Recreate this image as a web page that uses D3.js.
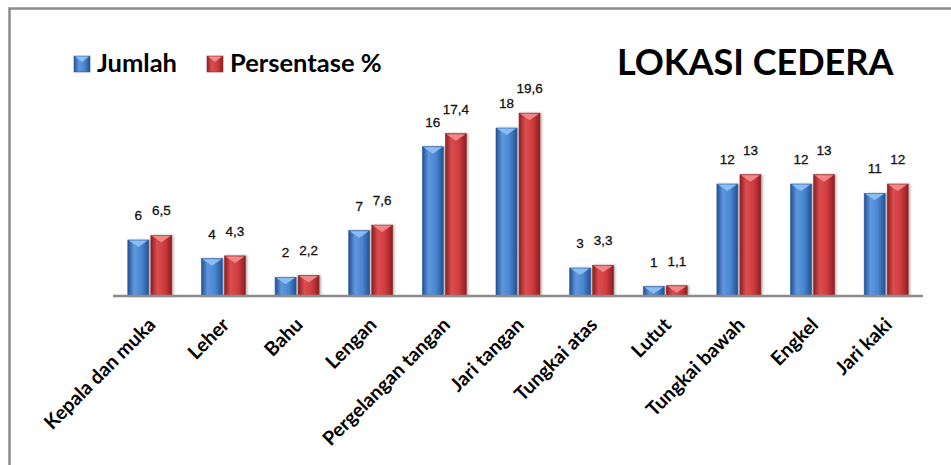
<!DOCTYPE html>
<html>
<head>
<meta charset="utf-8">
<script src="https://cdn.jsdelivr.net/npm/d3@7/dist/d3.min.js"></script>
<style>
  html, body { margin: 0; padding: 0; background: #fff; }
  svg { display: block; }
</style>
</head>
<body>
<svg id="chart" width="951" height="465"></svg>
<script>
// Lokasi cedera: jumlah kasus dan persentase per lokasi tubuh
const categories = ["Kepala dan muka", "Leher", "Bahu", "Lengan", "Pergelangan tangan",
  "Jari tangan", "Tungkai atas", "Lutut", "Tungkai bawah", "Engkel", "Jari kaki"];
const jumlah = [6, 4, 2, 7, 16, 18, 3, 1, 12, 12, 11];
const persentase = [6.5, 4.3, 2.2, 7.6, 17.4, 19.6, 3.3, 1.1, 13, 13, 12];
const seriesNames = ["Jumlah", "Persentase %"];
const chartTitle = "LOKASI CEDERA";

const svg = d3.select("#chart");

const fmt = v => String(v).replace(".", ",");

// frame around the chart area
svg.append("rect").attr("x", 9.5).attr("y", 8.5).attr("width", 960).attr("height", 480)
  .attr("fill", "#fff").attr("stroke", "#8c8c8c").attr("stroke-width", 2.5);

const defs = svg.append("defs");
const palettes = [
  { id: "gBlue", edge: "#24508f", mid: "#4a86d2", light: "#5f97de", cap: "#8cc0f4", stroke: "#2b5d9e" },
  { id: "gRed", edge: "#8a1f22", mid: "#cf3b3e", light: "#dc4e50", cap: "#f28a8a", stroke: "#9a2a2c" }
];
palettes.forEach(p => {
  const g = defs.append("linearGradient").attr("id", p.id)
    .attr("x1", "0").attr("x2", "1").attr("y1", "0").attr("y2", "0");
  g.append("stop").attr("offset", "0").attr("stop-color", p.edge);
  g.append("stop").attr("offset", "0.3").attr("stop-color", p.light);
  g.append("stop").attr("offset", "0.65").attr("stop-color", p.mid);
  g.append("stop").attr("offset", "1").attr("stop-color", p.edge);
});
const shadow = defs.append("filter").attr("id", "shadow")
  .attr("x", "-30%").attr("y", "-10%").attr("width", "160%").attr("height", "130%");
shadow.append("feDropShadow").attr("dx", 1.5).attr("dy", 0).attr("stdDeviation", 1.2)
  .attr("flood-color", "#000").attr("flood-opacity", 0.3);

// scales
const x0 = d3.scaleBand().domain(categories).range([113, 923]).paddingInner(0).paddingOuter(0);
const x1 = d3.scaleBand().domain(seriesNames).range([0, 44]).paddingInner(0.09);
const y = d3.scaleLinear().domain([0, 20]).range([296, 109.4]);

const groupOffset = (x0.bandwidth() - 44) / 2;

const rows = categories.map((c, i) => ({ cat: c, vals: [jumlah[i], persentase[i]] }));

const groups = svg.append("g").selectAll("g").data(rows).join("g")
  .attr("transform", d => `translate(${x0(d.cat) + groupOffset},0)`);

groups.each(function (d) {
  const g = d3.select(this);
  d.vals.forEach((v, k) => {
    const p = palettes[k];
    const bx = x1(seriesNames[k]);
    const bw = x1.bandwidth();
    const top = y(v);
    const h = y(0) - top;
    g.append("rect").attr("x", bx).attr("y", top).attr("width", bw).attr("height", h)
      .attr("fill", `url(#${p.id})`).attr("stroke", p.stroke).attr("stroke-width", 0.6)
      .attr("filter", "url(#shadow)");
    const capH = Math.min(7, h);
    g.append("polygon")
      .attr("points", [[bx + 1, top + 0.5], [bx + bw - 1, top + 0.5], [bx + bw / 2, top + capH]].join(" "))
      .attr("fill", p.cap).attr("opacity", 0.95);
    g.append("text").attr("x", bx + bw / 2).attr("y", top - 20)
      .attr("text-anchor", "middle")
      .attr("font-family", "Liberation Sans, Arial, sans-serif")
      .attr("font-size", 13.5).attr("fill", "#111")
      .attr("stroke", "#111").attr("stroke-width", 0.3)
      .text(fmt(v));
  });
});

// category axis
const xAxis = svg.append("g").attr("transform", "translate(0,296)")
  .call(d3.axisBottom(x0).tickSize(0).tickPadding(0));
xAxis.select(".domain").attr("stroke", "#8c8c8c").attr("stroke-width", 2.5)
  .attr("d", "M113,0H923");
xAxis.selectAll(".tick text")
  .attr("font-family", "Lato, 'Open Sans', sans-serif")
  .attr("font-weight", 700)
  .attr("font-size", 19.5)
  .attr("fill", "#000")
  .attr("text-anchor", "end")
  .attr("dy", 0)
  .attr("transform", "translate(7,30) rotate(-45)");

// legend
const legend = svg.append("g");
const legendItems = [
  { name: seriesNames[0], x: 74, p: palettes[0] },
  { name: seriesNames[1], x: 207, p: palettes[1] }
];
legendItems.forEach(it => {
  legend.append("rect").attr("x", it.x).attr("y", 56).attr("width", 16).attr("height", 16)
    .attr("fill", `url(#${it.p.id})`).attr("stroke", it.p.stroke).attr("stroke-width", 0.6);
  legend.append("polygon")
    .attr("points", [[it.x + 1, 56.5], [it.x + 15, 56.5], [it.x + 8, 62]].join(" "))
    .attr("fill", it.p.cap);
  legend.append("text").attr("x", it.x + 23).attr("y", 71.5)
    .attr("font-family", "Lato, 'Open Sans', sans-serif").attr("font-weight", 700)
    .attr("font-size", 25.5).attr("fill", "#000").text(it.name);
});

// title
svg.append("text").attr("x", 617).attr("y", 75)
  .attr("font-family", "Lato, 'Open Sans', sans-serif").attr("font-weight", 700)
  .attr("font-size", 36).attr("fill", "#000").text(chartTitle);
</script>
</body>
</html>
